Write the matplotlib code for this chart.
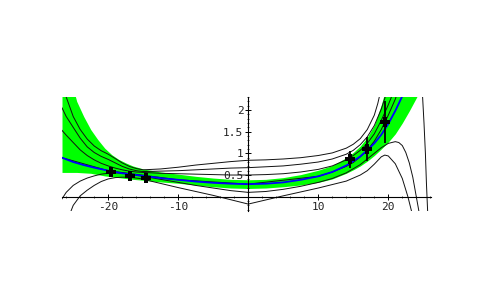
import matplotlib
matplotlib.use("Agg")
import matplotlib.pyplot as plt
from matplotlib.ticker import MultipleLocator, FixedLocator

plt.rcParams['axes.unicode_minus'] = False

# ---- data ----
band_x = [-26.6, -25.5, -24.5, -23.5, -22.5, -21.5, -20.5, -19.5, -18.5, -17.5, -16.5, -15,
          -12.5, -10, -7.5, -5, -2.5, 0, 2.5, 5, 7.5, 10, 12, 14, 15, 16, 17, 18, 19, 20,
          21, 22, 23, 24, 25, 26.1]
band_hi = [3.5, 2.8, 2.2, 1.85, 1.55, 1.32, 1.12, 0.97, 0.86, 0.78, 0.71, 0.64,
           0.57, 0.52, 0.47, 0.43, 0.40, 0.39, 0.40, 0.44, 0.51, 0.61, 0.72, 0.90, 1.02, 1.17,
           1.37, 1.65, 2.12, 2.7, 3.3, 4.0, 4.0, 4.0, 4.0, 4.0]
band_lo = [0.56, 0.56, 0.56, 0.55, 0.54, 0.51, 0.48, 0.46, 0.44, 0.42, 0.40, 0.38,
           0.34, 0.31, 0.27, 0.23, 0.20, 0.19, 0.20, 0.23, 0.27, 0.33, 0.41, 0.54, 0.62, 0.71,
           0.82, 0.95, 1.10, 1.26, 1.45, 1.70, 1.98, 2.28, 2.6, 3.0]

fit_x = [-26.6, -25, -23.5, -22, -20, -18, -16, -14, -12, -10, -7.5, -5, -2.5, 0, 2.5, 5,
         7.5, 10, 12, 14, 15, 16, 17, 18, 19, 20, 21, 22, 22.5]
fit_y = [0.90, 0.80, 0.73, 0.67, 0.60, 0.54, 0.50, 0.46, 0.42, 0.39, 0.35, 0.32, 0.30, 0.29,
         0.30, 0.33, 0.39, 0.47, 0.57, 0.72, 0.82, 0.93, 1.07, 1.23, 1.43, 1.68, 1.98, 2.32, 2.52]

f1_x = [-26.6, -26, -25, -24, -23, -22, -21, -20, -19, -18, -17, -16, -15, -12.5, -10, -7.5,
        -5, -2.5, 0, 2.5, 5, 7.5, 10, 12, 14, 15, 16, 17, 18, 18.5, 19]
f1_y = [2.6, 2.3, 1.85, 1.55, 1.33, 1.17, 1.06, 0.98, 0.88, 0.78, 0.70, 0.65, 0.62, 0.64,
        0.68, 0.73, 0.77, 0.81, 0.84, 0.85, 0.87, 0.90, 0.95, 1.01, 1.12, 1.21, 1.34, 1.55,
        1.88, 2.15, 2.5]
f2_x = [-26.6, -26, -25, -24, -23, -22, -21, -20, -19, -18, -17, -16, -15, -12.5, -10, -7.5,
        -5, -2.5, 0, 2.5, 5, 7.5, 10, 12, 14, 15, 16, 17, 18, 19, 19.5, 20]
f2_y = [2.05, 1.85, 1.6, 1.35, 1.15, 1.02, 0.93, 0.86, 0.78, 0.70, 0.64, 0.60, 0.58, 0.59,
        0.60, 0.62, 0.64, 0.66, 0.67, 0.69, 0.71, 0.75, 0.80, 0.87, 0.98, 1.07, 1.20, 1.38,
        1.64, 2.02, 2.27, 2.55]
f3_x = [-26.6, -26, -25, -24, -23, -22, -21, -20, -19, -18, -17, -16, -15, -12.5, -10, -7.5,
        -5, -2.5, 0, 2.5, 5, 7.5, 10, 12, 14, 15, 16, 17, 18, 19, 20, 20.5, 21]
f3_y = [1.53, 1.42, 1.25, 1.08, 0.95, 0.85, 0.77, 0.71, 0.66, 0.62, 0.59, 0.57, 0.56, 0.54,
        0.53, 0.52, 0.51, 0.50, 0.50, 0.51, 0.53, 0.57, 0.63, 0.71, 0.85, 0.95, 1.07, 1.23,
        1.45, 1.76, 2.12, 2.32, 2.6]
g_x = [-26.6, -20, -10, 0, 10, 12, 14, 15, 16, 17, 18, 19, 20, 21, 21.5, 22, 24, 24.9,
       25.1, 25.3, 25.45, 25.65]
g_y = [0.90, 0.60, 0.39, 0.29, 0.47, 0.57, 0.70, 0.79, 0.92, 1.07, 1.28, 1.55, 1.88, 2.25,
       2.48, 2.8, 2.9, 2.3, 1.7, 1.0, 0.3, -0.45]
ha_x = [-26.6, -26, -25, -24, -23, -22, -21, -20, -19, -18, -17, -15, -12.5, -10, -7.5, -5,
        -2.5, 0, 2.5, 5, 7.5, 10, 12, 14, 16, 18, 19, 20, 21, 21.5, 22, 22.5, 23, 23.5,
        24, 24.5]
ha_y = [-0.05, 0.10, 0.26, 0.36, 0.43, 0.48, 0.52, 0.54, 0.55, 0.54, 0.52, 0.47, 0.40, 0.33,
        0.26, 0.20, 0.14, 0.10, 0.12, 0.17, 0.24, 0.33, 0.42, 0.55, 0.74, 1.00, 1.13, 1.23,
        1.27, 1.25, 1.18, 1.02, 0.78, 0.45, 0.00, -0.45]
hb_x = [-25.6, -25, -24, -23, -22, -21, -20, -19, -18, -17, -15.5, -10, -5, 0, 5, 10, 14,
        16, 17, 18, 19, 19.5, 20, 21, 22, 22.8, 23.5]
hb_y = [-0.45, -0.20, 0.02, 0.15, 0.26, 0.35, 0.41, 0.44, 0.45, 0.45, 0.42, 0.21, 0.03,
        -0.17, 0.02, 0.20, 0.36, 0.50, 0.60, 0.75, 0.92, 0.96, 0.94, 0.76, 0.42, 0.00, -0.45]

pts_x = [-19.6, -16.9, -14.6, 14.6, 16.9, 19.6]
pts_y = [0.57, 0.48, 0.44, 0.86, 1.10, 1.72]
pts_err = [0.11, 0.08, 0.08, 0.19, 0.27, 0.48]

xticks = [-20, -10, 10, 20]
xtick_labels = ["-20", "-10", "10", "20"]
yticks = [0.5, 1, 1.5, 2]
ytick_labels = ["0.5", "1", "1.5", "2"]

# ---- figure ----
W, H = 498, 307
fig = plt.figure(figsize=(W / 100, H / 100), dpi=100)
ax = fig.add_axes([62 / W, (H - 211) / H, 369 / W, 114 / H])
ax.set_xlim(-26.6, 26.1)
ax.set_ylim(-0.33, 2.3)

ax.fill_between(band_x, band_lo, band_hi, color='#00ff00', lw=0, zorder=1)
for cx, cy in [(f1_x, f1_y), (f2_x, f2_y), (f3_x, f3_y), (g_x, g_y),
               (ha_x, ha_y), (hb_x, hb_y)]:
    ax.plot(cx, cy, color='#111111', lw=0.7, zorder=2)
ax.plot(fit_x, fit_y, color='#0000ff', lw=1.3, zorder=3)
ax.errorbar(pts_x, pts_y, yerr=pts_err, fmt='none', ecolor='k', elinewidth=1.3,
            capsize=0, zorder=4)
ax.plot(pts_x, pts_y, ls='none', marker='P', ms=6.5, color='k', mew=0, zorder=5)

for s in ['top', 'right']:
    ax.spines[s].set_visible(False)
ax.spines['left'].set_position(('data', 0))
ax.spines['bottom'].set_position(('data', 0))
for s in ['left', 'bottom']:
    ax.spines[s].set_linewidth(0.8)
    ax.spines[s].set_zorder(6)

ax.xaxis.set_major_locator(FixedLocator(xticks))
ax.set_xticklabels(xtick_labels)
ax.yaxis.set_major_locator(FixedLocator(yticks))
ax.set_yticklabels(ytick_labels)
ax.xaxis.set_minor_locator(MultipleLocator(2))
ax.yaxis.set_minor_locator(MultipleLocator(0.1))
ax.tick_params(which='major', direction='inout', length=4, width=0.7,
               labelsize=8, pad=1.5)
ax.tick_params(which='minor', direction='inout', length=2, width=0.5)
for lab in ax.get_xticklabels() + ax.get_yticklabels():
    lab.set_family('DejaVu Sans Mono')
    lab.set_color('#222222')

fig.savefig('out.png', dpi=100)
